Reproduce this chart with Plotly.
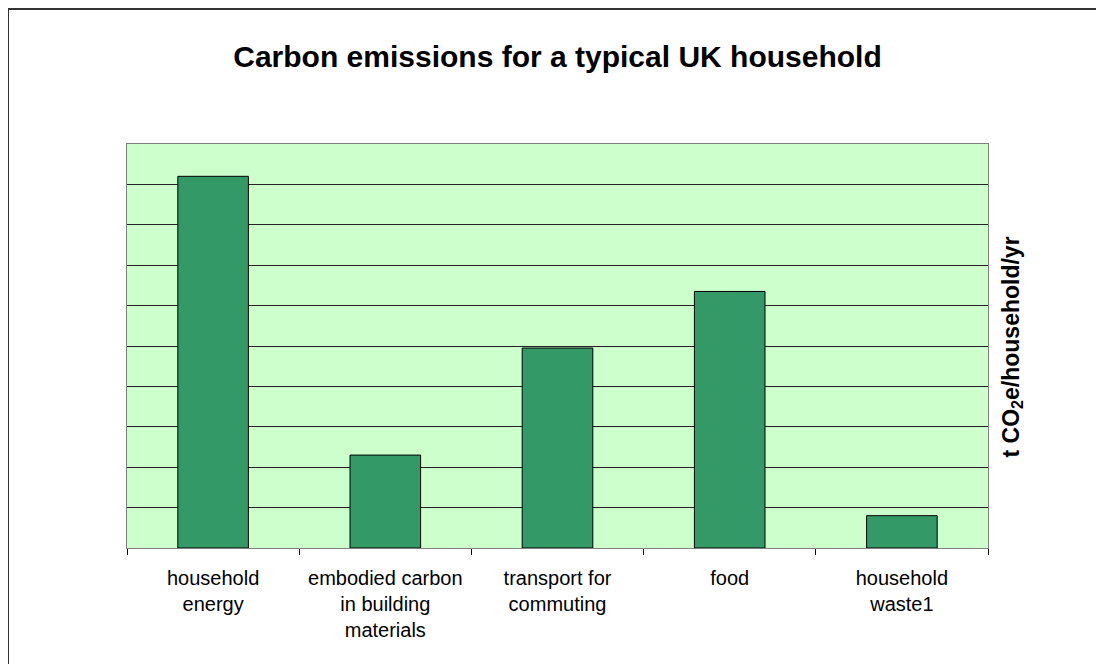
import plotly.graph_objects as go

categories = ["household<br>energy", "embodied carbon<br>in building<br>materials",
              "transport for<br>commuting", "food", "household<br>waste1"]
values = [9.2, 2.3, 4.95, 6.35, 0.8]

OFF = 8  # page body margin
W, H = 1104 - OFF, 664 - OFF
L, T = 127 - OFF, 144 - OFF
pw, ph = 861, 404
R, B = W - L - pw, H - T - ph

def px(x):
    return (x - OFF - L) / pw

def py(y):
    return (T + ph - (y - OFF)) / ph

fig = go.Figure(go.Bar(
    x=categories, y=values,
    marker=dict(color="#339966", line=dict(color="#000000", width=1)),
))

fig.update_layout(
    width=W, height=H,
    margin=dict(l=L, r=R, t=T, b=B),
    paper_bgcolor="white", plot_bgcolor="#CCFFCC",
    bargap=0.59, showlegend=False,
    font=dict(family="Arial, Liberation Sans, sans-serif", color="black"),
    title=dict(text="<b>Carbon emissions for a typical UK household</b>",
               x=0.5, xanchor="center", xref="paper", y=1 - (56 - OFF) / H, yanchor="middle",
               font=dict(size=30, color="black")),
)
fig.update_xaxes(
    tickson="boundaries", ticks="outside", ticklen=6, tickcolor="black",
    showline=True, linecolor="#808080", linewidth=1, mirror=True,
    showgrid=False, tickfont=dict(size=20), ticklabelstandoff=12,
)
fig.update_yaxes(
    range=[0, 10], dtick=1, showticklabels=False, ticks="",
    showgrid=True, gridcolor="#222222", gridwidth=1,
    showline=True, linecolor="#808080", linewidth=1, mirror=True, zeroline=False,
)
fig.add_annotation(
    text="<b>t CO<sub>2</sub>e/household/yr</b>", textangle=-90,
    xref="paper", yref="paper", x=px(1012), y=py(347.5),
    xanchor="center", yanchor="middle", showarrow=False,
    font=dict(size=23, color="black"),
)
# outer chart frame (left and top edges visible)
fig.add_shape(type="line", xref="paper", yref="paper",
              x0=px(8), x1=px(8), y0=py(9), y1=py(720), line=dict(color="#333333", width=2))
fig.add_shape(type="line", xref="paper", yref="paper",
              x0=px(8), x1=px(1200), y0=py(9), y1=py(9), line=dict(color="#333333", width=2))

fig.write_html("out.html")
